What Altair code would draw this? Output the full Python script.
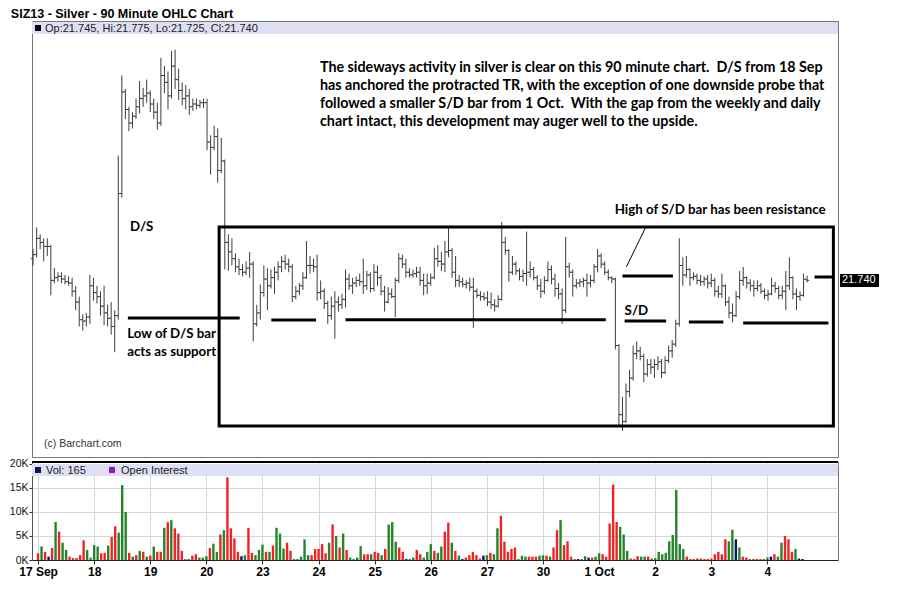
import altair as alt
import pandas as pd

# ---------------- data ----------------
day_labels = ["17 Sep", "18", "19", "20", "23", "24", "25", "26", "27", "30", "1 Oct", "2", "3", "4"]
bars_per_day = 16

opens = [
    21.90, 21.93, 22.05, 22.02, 21.99, 21.99, 21.74, 21.76, 21.77, 21.75, 21.73, 21.72, 21.66, 21.58, 21.45, 21.44,
    21.47, 21.70, 21.65, 21.62, 21.55, 21.50, 21.46, 21.40, 21.48, 22.38, 23.13, 23.00, 22.90, 22.95, 23.02, 23.08,
    23.10, 23.12, 23.04, 22.98, 22.90, 23.25, 23.20, 23.10, 23.32, 23.22, 23.14, 23.08, 23.10, 23.02, 23.04, 23.03,
    23.05, 23.05, 22.76, 22.72, 22.80, 22.55, 22.62, 22.02, 21.95, 21.90, 21.84, 21.82, 21.80, 21.83, 21.86, 21.42,
    21.50, 21.65, 21.75, 21.70, 21.76, 21.80, 21.84, 21.88, 21.86, 21.84, 21.62, 21.66, 21.70, 21.76, 21.85, 21.85,
    21.84, 21.65, 21.66, 21.57, 21.48, 21.55, 21.58, 21.56, 21.60, 21.75, 21.70, 21.72, 21.74, 21.73, 21.70, 21.78,
    21.68, 21.80, 21.76, 21.66, 21.58, 21.64, 21.62, 21.74, 21.90, 21.86, 21.80, 21.78, 21.79, 21.80, 21.74, 21.70,
    21.72, 21.76, 21.90, 21.88, 21.86, 21.95, 21.96, 21.80, 21.74, 21.73, 21.71, 21.72, 21.69, 21.66, 21.63, 21.62,
    21.61, 21.58, 21.56, 21.55, 21.60, 22.02, 21.96, 21.80, 21.86, 21.81, 21.77, 21.79, 21.80, 21.82, 21.76, 21.70,
    21.66, 21.74, 21.82, 21.75, 21.68, 21.64, 21.52, 21.84, 21.80, 21.70, 21.72, 21.73, 21.74, 21.72, 21.74, 21.84,
    21.92, 21.86, 21.80, 21.76, 21.75, 21.26, 20.75, 20.70, 20.92, 21.02, 21.20, 21.22, 21.18, 21.05, 21.12, 21.10,
    21.12, 21.14, 21.06, 21.15, 21.22, 21.27, 21.42, 21.85, 21.78, 21.82, 21.76, 21.77, 21.74, 21.73, 21.75, 21.72,
    21.74, 21.66, 21.64, 21.70, 21.58, 21.50, 21.48, 21.62, 21.74, 21.76, 21.72, 21.70, 21.68, 21.70, 21.66, 21.63,
    21.64, 21.70, 21.68, 21.63, 21.66, 21.70, 21.76, 21.64, 21.62, 21.63, 21.745,
]
highs = [
    21.97, 22.13, 22.08, 22.05, 22.05, 22.00, 21.83, 21.80, 21.80, 21.78, 21.77, 21.76, 21.70, 21.62, 21.49, 21.50,
    21.78, 21.76, 21.70, 21.66, 21.70, 21.56, 21.58, 21.52, 22.66, 23.25, 23.15, 23.02, 22.98, 23.08, 23.21, 23.16,
    23.22, 23.14, 23.08, 23.05, 23.38, 23.32, 23.28, 23.43, 23.44, 23.30, 23.20, 23.18, 23.15, 23.08, 23.08, 23.07,
    23.08, 23.08, 22.81, 22.88, 22.86, 22.79, 22.63, 22.08, 22.05, 21.94, 21.90, 21.86, 21.88, 21.95, 21.88, 21.56,
    21.71, 21.85, 21.83, 21.82, 21.84, 21.88, 21.92, 21.93, 21.90, 21.86, 21.70, 21.72, 21.80, 22.03, 21.92, 21.90,
    21.93, 21.74, 21.68, 21.59, 21.62, 21.66, 21.62, 21.64, 21.82, 21.79, 21.76, 21.77, 21.79, 21.90, 21.81, 21.80,
    21.86, 21.85, 21.78, 21.70, 21.69, 21.68, 21.76, 21.94, 21.93, 21.90, 21.83, 21.82, 21.84, 21.84, 21.79, 21.79,
    21.79, 21.98, 22.00, 21.95, 22.03, 22.13, 21.98, 21.92, 21.78, 21.76, 21.74, 21.76, 21.76, 21.68, 21.66, 21.65,
    21.66, 21.65, 21.60, 21.63, 22.17, 22.06, 21.97, 21.92, 21.88, 21.83, 21.82, 22.10, 21.88, 21.84, 21.78, 21.75,
    21.77, 21.88, 21.85, 21.79, 21.72, 21.68, 22.06, 21.87, 21.82, 21.75, 21.75, 21.76, 21.79, 21.78, 21.86, 21.97,
    21.94, 21.88, 21.82, 21.77, 21.76, 21.27, 20.88, 20.98, 21.08, 21.26, 21.29, 21.25, 21.20, 21.16, 21.16, 21.16,
    21.18, 21.16, 21.18, 21.26, 21.30, 21.45, 22.05, 21.91, 21.92, 21.83, 21.80, 21.79, 21.78, 21.77, 21.78, 21.79,
    21.76, 21.70, 21.79, 21.71, 21.62, 21.57, 21.66, 21.81, 21.84, 21.77, 21.75, 21.74, 21.74, 21.72, 21.68, 21.67,
    21.76, 21.73, 21.70, 21.70, 21.81, 21.91, 21.77, 21.68, 21.66, 21.79, 21.775,
]
lows = [
    21.85, 21.91, 21.97, 21.88, 21.92, 21.63, 21.72, 21.73, 21.72, 21.71, 21.70, 21.62, 21.52, 21.40, 21.37, 21.40,
    21.42, 21.59, 21.57, 21.48, 21.41, 21.40, 21.34, 21.21, 21.45, 22.35, 22.93, 22.84, 22.86, 22.93, 22.97, 23.02,
    23.05, 22.98, 22.93, 22.85, 22.88, 23.12, 23.00, 23.08, 23.15, 23.07, 23.03, 23.00, 22.96, 22.99, 23.00, 23.01,
    23.01, 22.70, 22.52, 22.70, 22.46, 22.53, 21.82, 21.81, 21.85, 21.80, 21.78, 21.77, 21.78, 21.76, 21.29, 21.40,
    21.45, 21.62, 21.52, 21.68, 21.64, 21.74, 21.80, 21.82, 21.80, 21.58, 21.60, 21.63, 21.67, 21.75, 21.79, 21.80,
    21.59, 21.60, 21.53, 21.42, 21.45, 21.31, 21.51, 21.53, 21.54, 21.67, 21.64, 21.69, 21.70, 21.64, 21.67, 21.65,
    21.66, 21.70, 21.63, 21.51, 21.57, 21.61, 21.47, 21.72, 21.83, 21.76, 21.76, 21.76, 21.76, 21.70, 21.63, 21.64,
    21.70, 21.75, 21.84, 21.81, 21.80, 21.91, 21.76, 21.69, 21.69, 21.69, 21.68, 21.66, 21.39, 21.61, 21.59, 21.59,
    21.55, 21.53, 21.51, 21.54, 21.59, 21.93, 21.73, 21.78, 21.78, 21.74, 21.73, 21.70, 21.76, 21.74, 21.67, 21.61,
    21.64, 21.73, 21.71, 21.62, 21.60, 21.42, 21.50, 21.76, 21.62, 21.68, 21.69, 21.69, 21.62, 21.69, 21.72, 21.80,
    21.83, 21.78, 21.74, 21.72, 21.23, 20.67, 20.63, 20.69, 20.88, 21.00, 21.16, 21.15, 20.99, 21.03, 21.05, 21.02,
    21.08, 21.02, 21.05, 21.13, 21.17, 21.25, 21.40, 21.70, 21.76, 21.70, 21.74, 21.71, 21.70, 21.70, 21.68, 21.69,
    21.62, 21.61, 21.61, 21.55, 21.46, 21.43, 21.47, 21.60, 21.70, 21.68, 21.66, 21.62, 21.66, 21.64, 21.60, 21.59,
    21.63, 21.65, 21.60, 21.60, 21.52, 21.67, 21.60, 21.52, 21.59, 21.62, 21.725,
]
closes = [
    21.93, 22.05, 22.02, 21.99, 21.99, 21.74, 21.76, 21.77, 21.75, 21.73, 21.72, 21.66, 21.58, 21.45, 21.44, 21.47,
    21.70, 21.65, 21.62, 21.55, 21.50, 21.46, 21.40, 21.48, 22.38, 23.13, 23.00, 22.90, 22.95, 23.02, 23.08, 23.10,
    23.12, 23.04, 22.98, 22.90, 23.25, 23.20, 23.10, 23.32, 23.22, 23.14, 23.08, 23.10, 23.02, 23.04, 23.03, 23.05,
    23.05, 22.76, 22.72, 22.80, 22.55, 22.62, 22.02, 21.95, 21.90, 21.84, 21.82, 21.80, 21.83, 21.86, 21.42, 21.50,
    21.65, 21.75, 21.70, 21.76, 21.80, 21.84, 21.88, 21.86, 21.84, 21.62, 21.66, 21.70, 21.76, 21.85, 21.85, 21.84,
    21.65, 21.66, 21.57, 21.48, 21.55, 21.58, 21.56, 21.60, 21.75, 21.70, 21.72, 21.74, 21.73, 21.70, 21.78, 21.68,
    21.80, 21.76, 21.66, 21.58, 21.64, 21.62, 21.74, 21.90, 21.86, 21.80, 21.78, 21.79, 21.80, 21.74, 21.70, 21.72,
    21.76, 21.90, 21.88, 21.86, 21.95, 21.96, 21.80, 21.74, 21.73, 21.71, 21.72, 21.69, 21.66, 21.63, 21.62, 21.61,
    21.58, 21.56, 21.55, 21.60, 22.02, 21.96, 21.80, 21.86, 21.81, 21.77, 21.79, 21.80, 21.82, 21.76, 21.70, 21.66,
    21.74, 21.82, 21.75, 21.68, 21.64, 21.52, 21.84, 21.80, 21.70, 21.72, 21.73, 21.74, 21.72, 21.74, 21.84, 21.92,
    21.86, 21.80, 21.76, 21.75, 21.26, 20.75, 20.70, 20.92, 21.02, 21.20, 21.22, 21.18, 21.05, 21.12, 21.10, 21.12,
    21.14, 21.06, 21.15, 21.22, 21.27, 21.42, 21.85, 21.78, 21.82, 21.76, 21.77, 21.74, 21.73, 21.75, 21.72, 21.74,
    21.66, 21.64, 21.70, 21.58, 21.50, 21.48, 21.62, 21.74, 21.76, 21.72, 21.70, 21.68, 21.70, 21.66, 21.63, 21.64,
    21.70, 21.68, 21.63, 21.66, 21.70, 21.76, 21.64, 21.62, 21.63, 21.75, 21.740,
]
volume_k = [
    1.4, 2.8, 1.7, 0.7, 2.5, 7.9, 5.9, 3.6, 2.1, 0.7, 0.4, 0.4, 1.0, 4.1, 2.1, 0.5,
    3.1, 2.8, 1.4, 1.5, 3.0, 4.8, 7.0, 5.7, 15.6, 10.0, 1.5, 0.7, 1.0, 1.9, 1.7, 0.7,
    0.9, 2.8, 1.7, 1.7, 6.7, 7.9, 8.3, 6.6, 5.5, 1.9, 0.2, 0.2, 0.9, 1.2, 0.5, 0.5,
    0.8, 2.5, 3.4, 1.7, 5.3, 6.2, 17.2, 6.6, 4.5, 1.7, 0.8, 1.0, 6.7, 1.5, 1.0, 2.1,
    3.2, 1.7, 1.7, 3.0, 6.7, 5.5, 2.4, 3.6, 1.9, 0.2, 0.2, 0.7, 4.3, 1.0, 1.0, 2.3,
    2.3, 3.3, 1.4, 3.6, 7.4, 5.0, 2.6, 5.5, 2.1, 0.5, 0.2, 0.5, 2.9, 1.2, 1.2, 1.2,
    1.7, 1.5, 1.0, 2.3, 7.4, 7.9, 3.8, 2.6, 1.7, 0.2, 0.2, 0.5, 2.1, 1.2, 0.5, 1.7,
    3.3, 1.9, 1.5, 2.8, 5.9, 7.8, 3.6, 1.9, 0.9, 0.2, 0.5, 1.0, 1.7, 1.0, 0.3, 0.9,
    1.0, 1.5, 1.2, 6.6, 9.2, 3.8, 1.7, 2.3, 2.6, 0.2, 0.9, 0.7, 0.7, 0.7, 0.7, 0.9,
    1.0, 0.9, 0.7, 2.6, 6.2, 8.3, 3.1, 3.9, 0.7, 0.2, 0.2, 0.2, 0.8, 0.5, 0.5, 0.7,
    1.4, 1.2, 0.7, 7.6, 15.7, 7.9, 6.9, 5.3, 1.9, 0.3, 0.2, 0.8, 0.7, 0.7, 0.7, 0.3,
    0.4, 1.7, 1.2, 1.5, 3.9, 5.2, 14.6, 3.3, 2.3, 0.7, 0.2, 0.2, 0.3, 0.3, 0.2, 0.2,
    0.3, 1.2, 1.7, 1.2, 4.3, 3.9, 6.3, 4.3, 2.6, 0.7, 0.5, 0.2, 0.2, 0.2, 0.2, 0.2,
    0.5, 0.7, 1.2, 0.7, 3.6, 5.0, 4.3, 1.7, 2.3, 0.3, 0.2,
]
# g = up (green), r = down (red), n = unchanged (navy)
volume_dir = list(
    "rgrnrgrggrrrrrgg" "ggrrgrrgggrgrgrg" "rgrrgrgrrrggrrgg" "grggrgrrrrngrrgg"
    "grgrgggrrgggggrr" "rrrgrgrgrggggrrg" "rrgrgggrrnggrrgg" "grggrrgrgnrrrrrn"
    "grggrrrrrgggrrrg" "grgrrgrrrgnrgnrg" "grrrrrgggrrrggrg" "gggggggggrrrrrrr"
    "rrrrrggngrrrrrrr" "gnrggrrrgnn"
)

price_ticks = [20.6, 20.8, 21.0, 21.2, 21.4, 21.6, 21.8, 22.0, 22.2, 22.4, 22.6, 22.8, 23.0, 23.2, 23.4, 23.6]
volume_ticks = [0, 5, 10, 15, 20]
last_price = [21.74]

# annotations (bar-index / price units)
line_x1 = [26.7, 67.1, 88.0, 166.0, 166.6, 184.7, 200.0, 220.1]
line_x2 = [58.2, 79.7, 161.3, 180.2, 178.3, 194.4, 224.0, 225.1]
line_y = [21.462, 21.448, 21.450, 21.772, 21.440, 21.433, 21.426, 21.765]
box_x = [52.4, 225.4]
box_y = [20.666, 22.133]
pointer_x = [172.7, 167.1]
pointer_y = [22.14, 21.84]
note_text = ["D/S", "Low of D/S bar", "acts as support", "High of S/D bar has been resistance", "S/D"]
note_x = [27.3, 26.5, 26.5, 163.8, 166.6]
note_y = [22.133, 21.345, 21.212, 22.259, 21.514]
para_text = [
    "The sideways activity in silver is clear on this 90 minute chart.\u00a0 D/S from 18 Sep",
    "has anchored the protracted TR, with the exception of one downside probe that",
    "followed a smaller S/D bar from 1 Oct.\u00a0 With the gap from the weekly and daily",
    "chart intact, this development may auger well to the upside.",
]
para_x = [80.8, 80.8, 80.8, 80.8]
para_y = [23.305, 23.172, 23.040, 22.907]

# ---------------- build ----------------
n = len(closes)
df = pd.DataFrame({"i": list(range(n)), "o": opens, "h": highs, "l": lows, "c": closes,
                   "v": volume_k, "d": volume_dir})
lines_df = pd.DataFrame({"x1": line_x1, "x2": line_x2, "y": line_y})
box_df = pd.DataFrame({"x1": [box_x[0]], "x2": [box_x[1]], "y1": [box_y[0]], "y2": [box_y[1]]})
ptr_df = pd.DataFrame({"x1": [pointer_x[0]], "x2": [pointer_x[1]], "y1": [pointer_y[0]], "y2": [pointer_y[1]]})
notes_df = pd.DataFrame({"x": note_x, "y": note_y, "t": note_text})
para_df = pd.DataFrame({"x": para_x, "y": para_y, "t": para_text})
last_df = pd.DataFrame({"p": last_price, "t": ["%.3f" % p for p in last_price]})
one = pd.DataFrame({"k": [0]})

W = 806
H1 = 436
H2 = 98
GRID = "#d6d6d6"
XDOM = [-0.3, 226.7]
day_ticks = [k * bars_per_day for k in range(len(day_labels))]
label_arr = "[" + ",".join("'%s'" % s for s in day_labels) + "]"

xs = alt.Scale(domain=XDOM, nice=False, zero=False)
ys = alt.Scale(domain=[20.438, 23.652], nice=False, zero=False)
vs = alt.Scale(domain=[0, 20.4], nice=False, zero=False)

base = alt.Chart(df)
BAR = "#3c3c3c"

hl = base.mark_rule(color=BAR, strokeWidth=1).encode(
    x=alt.X("i:Q", scale=xs, axis=alt.Axis(values=day_ticks, grid=True, gridColor=GRID, labels=False,
                                           ticks=False, domain=False, title=None)),
    y=alt.Y("l:Q", scale=ys, axis=alt.Axis(orient="right", values=price_ticks, grid=True, gridColor=GRID,
                                           labelExpr="abs(datum.value-21.8)<0.01 ? '' : format(datum.value, '.3f')",
                                           tickSize=5, tickColor="#333", domainColor="#555", labelFontSize=11,
                                           labelColor="#111", labelPadding=2, labelFlush=False, title=None)),
    y2="h:Q",
)
op = base.transform_calculate(xa="datum.i-0.6").mark_rule(color=BAR, strokeWidth=1).encode(
    x=alt.X("xa:Q", scale=xs, axis=None), x2="i:Q", y=alt.Y("o:Q", scale=ys, axis=None))
cl = base.transform_calculate(xb="datum.i+0.6").mark_rule(color=BAR, strokeWidth=1).encode(
    x=alt.X("i:Q", scale=xs, axis=None), x2="xb:Q", y=alt.Y("c:Q", scale=ys, axis=None))

band1 = alt.Chart(one).mark_rect(color="#dedff3").encode(
    x=alt.value(0), x2=alt.value(W), y=alt.value(1), y2=alt.value(13))
sq1 = alt.Chart(one).mark_square(size=36, color="black", opacity=1).encode(x=alt.value(6), y=alt.value(7))
leg1 = alt.Chart(one).mark_text(align="left", baseline="middle", fontSize=11, color="#222").encode(
    x=alt.value(13), y=alt.value(7.5), text=alt.value("Op:21.745, Hi:21.775, Lo:21.725, Cl:21.740"))

box = alt.Chart(box_df).mark_rect(fillOpacity=0, stroke="black", strokeWidth=3).encode(
    x=alt.X("x1:Q", scale=xs, axis=None), x2="x2:Q", y=alt.Y("y1:Q", scale=ys, axis=None), y2="y2:Q")
segs = alt.Chart(lines_df).mark_rule(color="black", strokeWidth=3).encode(
    x=alt.X("x1:Q", scale=xs, axis=None), x2="x2:Q", y=alt.Y("y:Q", scale=ys, axis=None))
ptr = alt.Chart(ptr_df).mark_rule(color="black", strokeWidth=1).encode(
    x=alt.X("x1:Q", scale=xs, axis=None), x2="x2:Q", y=alt.Y("y1:Q", scale=ys, axis=None), y2="y2:Q")
notes = alt.Chart(notes_df).mark_text(align="left", baseline="middle", font="Lato", fontWeight="bold",
                                      fontSize=13.3, color="black").encode(
    x=alt.X("x:Q", scale=xs, axis=None), y=alt.Y("y:Q", scale=ys, axis=None), text="t:N")
para = alt.Chart(para_df).mark_text(align="left", baseline="middle", font="Lato", fontWeight="bold",
                                    fontSize=14.3, color="black").encode(
    x=alt.X("x:Q", scale=xs, axis=None), y=alt.Y("y:Q", scale=ys, axis=None), text="t:N")
credit = alt.Chart(one).mark_text(align="left", baseline="middle", fontSize=10.5, color="#333").encode(
    x=alt.value(12), y=alt.value(H1 - 13), text=alt.value("(c) Barchart.com"))

lastbox = alt.Chart(last_df).mark_rule(color="black", strokeWidth=13, strokeCap="butt").encode(
    x=alt.value(W + 2), x2=alt.value(W + 41), y=alt.Y("p:Q", scale=ys, axis=None))
lasttxt = alt.Chart(last_df).mark_text(align="left", baseline="middle", fontSize=11, color="white").encode(
    x=alt.value(W + 4), y=alt.Y("p:Q", scale=ys, axis=None), text="t:N")

price = alt.layer(band1, hl, op, cl, box, segs, ptr, notes, para, credit, sq1, leg1, lastbox, lasttxt).properties(
    width=W, height=H1)

vbars = base.mark_bar(size=2.4).encode(
    x=alt.X("i:Q", scale=xs, axis=alt.Axis(values=day_ticks, grid=True, gridColor=GRID,
                                           labelExpr=label_arr + "[round(datum.value/%d)]" % bars_per_day,
                                           labelFontWeight="bold", labelFontSize=12, labelColor="black",
                                           labelOverlap=False, labelFlush=False, tickSize=4, tickColor="#333",
                                           domainColor="#222", labelPadding=2, title=None)),
    y=alt.Y("v:Q", scale=vs, axis=alt.Axis(orient="left", values=volume_ticks, grid=True, gridColor=GRID,
                                           labelExpr="datum.value + 'K'", tickSize=3, tickColor="#333",
                                           domainColor="#555", labelFontSize=10.5, labelColor="#111",
                                           labelPadding=1, labelFlush=False, title=None)),
    color=alt.Color("d:N", scale=alt.Scale(domain=["g", "r", "n"], range=["#23862a", "#f02424", "#101070"]),
                    legend=None),
)
band2 = alt.Chart(one).mark_rect(color="#dedff3").encode(
    x=alt.value(0), x2=alt.value(W), y=alt.value(2), y2=alt.value(14))
sq2 = alt.Chart(one).mark_square(size=36, color="#101060", opacity=1).encode(x=alt.value(6), y=alt.value(8))
leg2 = alt.Chart(one).mark_text(align="left", baseline="middle", fontSize=11, color="#222").encode(
    x=alt.value(14), y=alt.value(8.5), text=alt.value("Vol: 165"))
sq3 = alt.Chart(one).mark_square(size=36, color="#8a18c8", opacity=1).encode(x=alt.value(80), y=alt.value(8))
leg3 = alt.Chart(one).mark_text(align="left", baseline="middle", fontSize=11, color="#222").encode(
    x=alt.value(89), y=alt.value(8.5), text=alt.value("Open Interest"))
topline = alt.Chart(one).mark_rule(color="black", strokeWidth=2).encode(
    x=alt.value(0), x2=alt.value(W), y=alt.value(0))

volume = alt.layer(band2, vbars, sq2, leg2, sq3, leg3, topline).properties(width=W, height=H2)

chart = alt.vconcat(price, volume, spacing=0).properties(
    title=alt.TitleParams("SIZ13 - Silver - 90 Minute OHLC Chart", anchor="start", fontSize=12.5,
                          font="Liberation Sans", fontWeight="bold", color="black", offset=0, dx=2),
    padding={"left": 0, "top": 0, "right": 5, "bottom": 5},
    background="white",
).configure_view(stroke="#777", strokeWidth=1, fill="white").configure_axis(
    labelFont="Liberation Sans")

chart.save("out.html", embed_options={"renderer": "svg", "actions": False})
